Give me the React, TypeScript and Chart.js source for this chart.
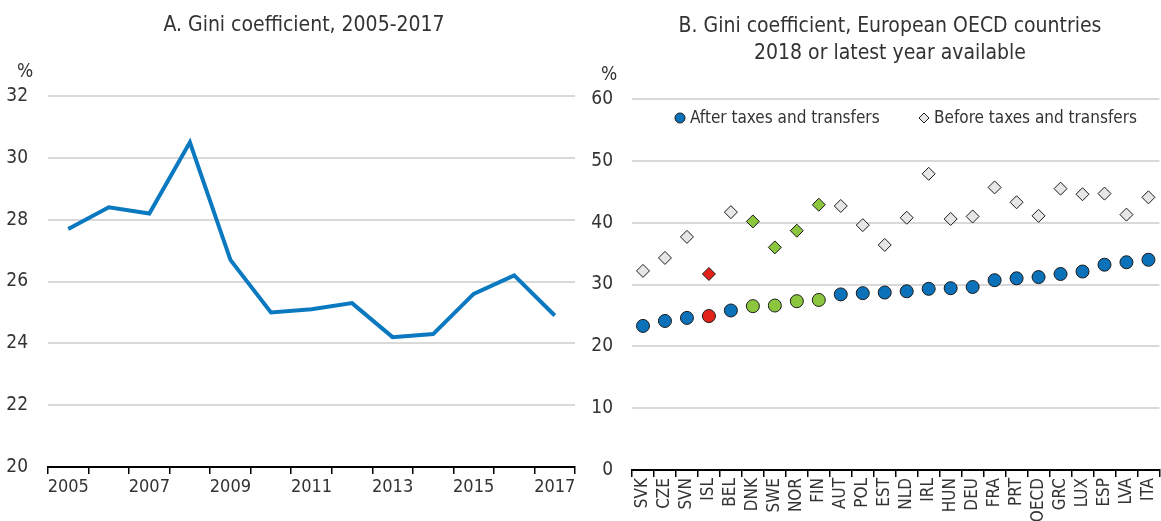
import React, { useEffect, useRef } from 'react';
import { Chart, registerables } from 'chart.js';

Chart.register(...registerables);

const FONT = "'Liberation Sans Narrow', 'Arial Narrow', 'DejaVu Sans Condensed', sans-serif";
const TEXT = '#333333';
const GRID = '#d9d9d9';
const LINE_BLUE = '#0B79C0';
const DOT_BLUE = '#0B72BA';
const GREEN = '#8CC63F';
const RED = '#E2231A';
const DIAMOND_GREY = '#E6E6E6';

// Panel A
const years = ['2005', '2006', '2007', '2008', '2009', '2010', '2011', '2012', '2013', '2014', '2015', '2016', '2017'];
const giniValues = [27.7, 28.4, 28.2, 30.5, 26.7, 25.0, 25.1, 25.3, 24.2, 24.3, 25.6, 26.2, 24.9];
const panelAMin = 20;
const panelAMax = 32;
const panelAStep = 2;

// Panel B
const countries = ['SVK', 'CZE', 'SVN', 'ISL', 'BEL', 'DNK', 'SWE', 'NOR', 'FIN', 'AUT', 'POL', 'EST', 'NLD', 'IRL', 'HUN', 'DEU', 'FRA', 'PRT', 'OECD', 'GRC', 'LUX', 'ESP', 'LVA', 'ITA'];
const afterTaxes = [23.3, 24.1, 24.6, 24.9, 25.8, 26.5, 26.6, 27.3, 27.5, 28.4, 28.6, 28.7, 28.9, 29.3, 29.4, 29.6, 30.7, 31.0, 31.2, 31.7, 32.1, 33.2, 33.6, 34.0];
const beforeTaxes = [32.2, 34.3, 37.7, 31.7, 41.7, 40.2, 36.0, 38.7, 42.9, 42.7, 39.6, 36.4, 40.8, 47.9, 40.6, 41.0, 45.7, 43.3, 41.1, 45.5, 44.6, 44.7, 41.3, 44.1];
const nordicGroup = ['DNK', 'SWE', 'NOR', 'FIN'];
const highlightGroup = ['ISL'];
const panelBMin = 0;
const panelBMax = 60;
const panelBStep = 10;
const legendLabels = ['After taxes and transfers', 'Before taxes and transfers'];

const colourFor = (c: string, base: string) =>
  highlightGroup.includes(c) ? RED : nordicGroup.includes(c) ? GREEN : base;

const insideLegend = {
  id: 'insideLegend',
  afterDraw(chart: any) {
    const ctx = chart.ctx as CanvasRenderingContext2D;
    ctx.save();
    ctx.font = `17px ${FONT}`;
    ctx.fillStyle = TEXT;
    ctx.textBaseline = 'middle';
    const y = 118;
    // circle marker
    ctx.beginPath();
    ctx.arc(100, y, 5, 0, Math.PI * 2);
    ctx.fillStyle = DOT_BLUE;
    ctx.fill();
    ctx.lineWidth = 1;
    ctx.strokeStyle = '#1a1a1a';
    ctx.stroke();
    ctx.fillStyle = TEXT;
    ctx.fillText(legendLabels[0], 110, y + 1);
    // diamond marker
    const dx = 344;
    const r = 5;
    ctx.beginPath();
    ctx.moveTo(dx - r, y);
    ctx.lineTo(dx, y - r);
    ctx.lineTo(dx + r, y);
    ctx.lineTo(dx, y + r);
    ctx.closePath();
    ctx.fillStyle = DIAMOND_GREY;
    ctx.fill();
    ctx.strokeStyle = '#1a1a1a';
    ctx.stroke();
    ctx.fillStyle = TEXT;
    ctx.fillText(legendLabels[1], 354, y + 1);
    ctx.restore();
  },
};

export default function App() {
  const leftRef = useRef<HTMLCanvasElement>(null);
  const rightRef = useRef<HTMLCanvasElement>(null);

  useEffect(() => {
    Chart.defaults.font.family = FONT;
    Chart.defaults.color = TEXT;

    const left = new Chart(leftRef.current!, {
      type: 'line',
      data: {
        labels: years,
        datasets: [
          {
            data: giniValues,
            borderColor: LINE_BLUE,
            borderWidth: 4,
            pointRadius: 0,
            tension: 0,
            fill: false,
          },
        ],
      },
      options: {
        animation: false,
        responsive: false,
        maintainAspectRatio: false,
        layout: { padding: { top: 96, right: 15, left: 0, bottom: 0 } },
        plugins: { legend: { display: false }, tooltip: { enabled: false } },
        scales: {
          x: {
            type: 'category',
            offset: true,
            grid: { offset: true, drawOnChartArea: false, drawTicks: true, tickLength: 7, color: '#000', lineWidth: 1.5 },
            border: { display: true, color: '#000', width: 2 },
            ticks: {
              autoSkip: false,
              maxRotation: 0,
              minRotation: 0,
              color: TEXT,
              font: { size: 18, family: FONT },
              padding: 3,
              callback: (_v: any, i: number) => (i % 2 === 0 ? years[i] : ''),
            },
            afterFit: (s: any) => {
              s.height = 54;
            },
          },
          y: {
            min: panelAMin,
            max: panelAMax,
            ticks: { stepSize: panelAStep, color: TEXT, font: { size: 19, family: FONT }, padding: 20 },
            grid: { color: GRID, lineWidth: 2, drawTicks: false },
            border: { display: false },
            afterFit: (s: any) => {
              s.width = 48;
            },
          },
        },
      },
    } as any);

    const right = new Chart(rightRef.current!, {
      type: 'line',
      data: {
        labels: countries,
        datasets: [
          {
            label: legendLabels[0],
            data: afterTaxes,
            showLine: false,
            pointStyle: 'circle',
            pointRadius: 6.5,
            pointBorderWidth: 1,
            pointBorderColor: '#1a1a1a',
            pointBackgroundColor: countries.map((c) => colourFor(c, DOT_BLUE)),
          },
          {
            label: legendLabels[1],
            data: beforeTaxes,
            showLine: false,
            pointStyle: 'rectRot',
            pointRadius: 6.5,
            pointBorderWidth: 1,
            pointBorderColor: '#1a1a1a',
            pointBackgroundColor: countries.map((c) => colourFor(c, DIAMOND_GREY)),
          },
        ],
      },
      options: {
        animation: false,
        responsive: false,
        maintainAspectRatio: false,
        layout: { padding: { top: 99, right: 5, left: 0, bottom: 0 } },
        plugins: { legend: { display: false }, tooltip: { enabled: false } },
        scales: {
          x: {
            type: 'category',
            offset: true,
            grid: { offset: true, drawOnChartArea: false, drawTicks: true, tickLength: 7, color: '#000', lineWidth: 1.5 },
            border: { display: true, color: '#000', width: 2 },
            ticks: {
              autoSkip: false,
              maxRotation: 90,
              minRotation: 90,
              color: TEXT,
              font: { size: 17, family: FONT },
              padding: 1,
            },
            afterFit: (s: any) => {
              s.height = 51;
            },
          },
          y: {
            min: panelBMin,
            max: panelBMax,
            ticks: { stepSize: panelBStep, color: TEXT, font: { size: 19, family: FONT }, padding: 19 },
            grid: { color: GRID, lineWidth: 2, drawTicks: false },
            border: { display: false },
            afterFit: (s: any) => {
              s.width = 52;
            },
          },
        },
      },
      plugins: [insideLegend],
    } as any);

    return () => {
      left.destroy();
      right.destroy();
    };
  }, []);

  const textStyle: React.CSSProperties = {
    position: 'absolute',
    fontFamily: FONT,
    color: TEXT,
    whiteSpace: 'nowrap',
    textAlign: 'center',
  };

  return (
    <div
      style={{
        position: 'fixed',
        left: 0,
        top: 0,
        width: 1161,
        height: 521,
        overflow: 'hidden',
        background: '#fff',
      }}
    >
      <canvas ref={leftRef} width={590} height={521} style={{ position: 'absolute', left: 0, top: 0, width: 590, height: 521 }} />
      <canvas ref={rightRef} width={590} height={521} style={{ position: 'absolute', left: 580, top: 0, width: 590, height: 521 }} />
      <div style={{ ...textStyle, left: 104, width: 400, top: 12, fontSize: 21, lineHeight: '25px' }}>
        A. Gini coefficient, 2005-2017
      </div>
      <div style={{ ...textStyle, left: 640, width: 500, top: 12, fontSize: 21, lineHeight: '27px' }}>
        B. Gini coefficient, European OECD countries
        <br />
        2018 or latest year available
      </div>
      <div style={{ ...textStyle, left: 10, width: 30, top: 58, fontSize: 19, lineHeight: '24px' }}>%</div>
      <div style={{ ...textStyle, left: 594, width: 30, top: 61, fontSize: 19, lineHeight: '24px' }}>%</div>
    </div>
  );
}
